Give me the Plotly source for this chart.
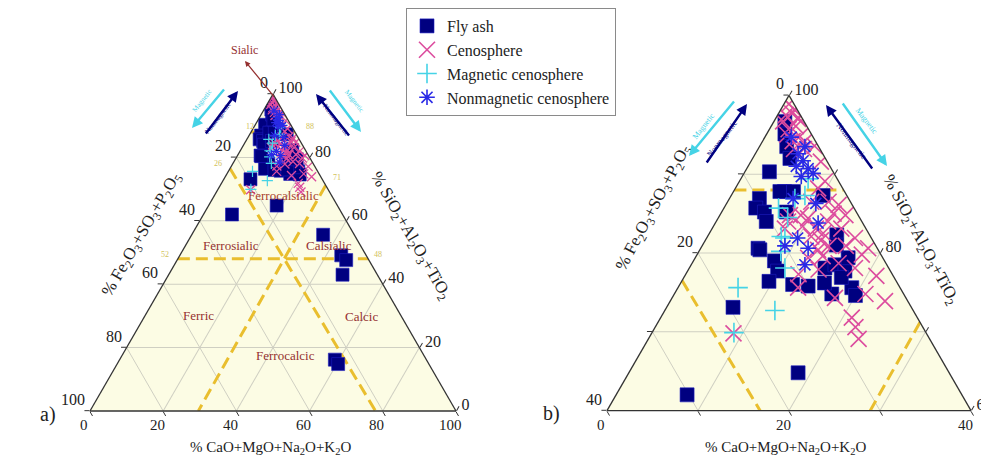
import plotly.graph_objects as go

W, H = 989, 456

# ---------------- data (percent) ----------------
# Si = SiO2+Al2O3+TiO2 (top), Fe = Fe2O3+SO3+P2O5 (bottom-left), Ca = CaO+MgO+Na2O+K2O (bottom-right)
fly_si = [90.3, 86.9, 85.7, 85.2, 84.0, 87.8, 87.8, 87.8, 87.3, 85.2, 82.3, 80.6, 79.0, 77.7, 76.4,
          76.0, 75.8, 78.1, 74.8, 78.5, 77.7, 75.6, 74.6, 76.9, 76.2, 79.4, 73.1, 62.0, 64.8, 80.4,
          81.0, 96.7, 95.1, 93.5, 92.0, 55.6, 49.1, 43.0, 16.2, 14.8, 47.6]
fly_fe = [7.0, 9.8, 10.8, 10.1, 10.5, 6.6, 7.1, 5.6, 2.6, 7.7, 3.6, 13.1, 12.1, 12.4, 14.0,
          11.6, 10.0, 7.0, 7.9, 5.7, 5.0, 5.3, 5.4, 5.8, 8.0, 3.8, 19.6, 30.2, 16.6, 13.0,
          4.3, 2.1, 2.9, 3.5, 3.9, 8.5, 6.8, 9.5, 25.0, 24.8, 6.2]
fly_ca = [2.7, 3.3, 3.5, 4.7, 5.5, 5.6, 5.1, 6.6, 10.1, 7.1, 14.1, 6.3, 8.9, 9.9, 9.6,
          12.4, 14.2, 14.9, 17.3, 15.8, 17.3, 19.1, 20.0, 17.3, 15.8, 16.8, 7.3, 7.8, 18.6, 6.6,
          14.7, 1.2, 2.0, 3.0, 4.1, 35.9, 44.1, 47.5, 58.8, 60.4, 46.2]

ceno_si = [98.2, 97.0, 93.6, 91.6, 89.1, 86.5, 86.1, 84.8, 84.0, 83.1, 81.9, 79.8, 80.6, 78.1, 74.8,
           73.9, 71.8, 69.1, 70.6, 86.5, 84.8, 84.0, 83.1, 77.3, 74.3, 69.8,
           98.9, 97.7, 97.5, 96.1, 95.7, 94.8, 94.2, 94.0, 95.0, 97.2, 96.7, 93.2, 93.2,
           84.4, 83.1, 82.1, 81.6, 80.4, 80.9, 83.4, 79.6, 84.8,
           88.2, 85.0, 82.5, 80.9, 78.7, 77.1, 77.9, 79.4, 75.6]
ceno_fe = [0.3, 0.5, 0.4, 0.7, 1.5, 2.4, 1.5, 1.4, 3.7, 2.7, 1.8, 2.1, 1.0, 3.7, 4.2,
           2.5, 7.2, 7.8, 7.4, 4.3, 6.3, 8.1, 8.9, 10.3, 7.8, 21.2,
           0.55, 0.8, 1.6, 1.2, 2.2, 1.4, 2.5, 1.4, 2.7, 0.4, 2.3, 1.75, 2.85,
           5.7, 5.5, 6.5, 5.7, 6.6, 5.2, 6.8, 6.5, 7.5,
           2.7, 2.6, 5.0, 3.3, 5.2, 1.85, 7.8, 8.2, 11.2]
ceno_ca = [1.5, 2.5, 6.0, 7.7, 9.4, 11.1, 12.4, 13.8, 12.3, 14.2, 16.3, 18.1, 18.4, 18.2, 21.0,
           23.6, 21.0, 23.1, 22.0, 9.2, 8.9, 7.9, 8.0, 12.4, 17.9, 9.0,
           0.55, 1.5, 0.9, 2.7, 2.1, 3.8, 3.3, 4.6, 2.3, 2.4, 1.0, 5.05, 3.95,
           9.9, 11.4, 11.4, 12.7, 13.0, 13.9, 9.8, 13.9, 7.7,
           9.1, 12.4, 12.5, 15.8, 16.1, 21.05, 14.3, 12.4, 13.2]

mag_si = [89.4, 87.3, 86.9, 85.7, 81.9, 80.2, 78.1, 75.6, 72.7, 69.9, 84.5, 82.1]
mag_fe = [3.2, 4.6, 5.9, 8.3, 9.5, 10.8, 11.4, 17.8, 15.2, 21.1, 7.9, 9.8]
mag_ca = [7.4, 8.1, 7.2, 6.0, 8.6, 9.0, 10.5, 6.6, 12.1, 9.0, 7.6, 8.1]

nonmag_si = [92.6, 91.7, 90.7, 91.0, 90.1, 89.7, 94.7, 93.5, 80.9, 81.9, 80.6, 86.9, 86.3, 78.5, 83.8]
nonmag_fe = [2.7, 2.6, 2.55, 3.7, 2.3, 3.8, 2.4, 1.5, 10.0, 8.1, 7.6, 6.1, 3.9, 9.0, 4.9]
nonmag_ca = [4.7, 5.7, 6.75, 5.3, 7.6, 6.5, 2.9, 5.0, 9.1, 10.0, 11.8, 7.0, 9.8, 12.5, 11.3]

# classification boundaries (dashed) : pairs of end points
bound_si = [[88, 88], [48, 48], [76.5, 0], [71.2, 0]]
bound_fe = [[12, 0], [52, 0], [23.5, 22], [0, 70.4]]
bound_ca = [[0, 12], [0, 52], [0, 78], [28.8, 29.6]]

# axis ticks / labels
ticks_full = [0, 20, 40, 60, 80, 100]
labels_full = ["0", "20", "40", "60", "80", "100"]
ticks_zoom = [60, 70, 80, 90, 100]
ticks_zoom_bc = [0, 10, 20, 30, 40]
labels_zoom = ["0", "20", "40"]          # Fe (left) and Ca (bottom) in the zoomed chart
labels_zoom_si = ["100", "", "80", "", "60"]

NAVY = "#000080"
PINK = "#DC4C9E"
CYAN = "#45D3E6"
BLUE = "#2A2AE6"
GOLD = "#E9BE2E"
DRED = "#953030"
SERIF = "Liberation Serif"

# pixel frames of the two ternary plots (domain boxes)
FRAME1 = (82, 448, 86, 403)
FRAME2 = (599, 963, 86, 404)

fig = go.Figure()


def add_set(sub, big, legend):
    for s, f, c in zip(bound_si, bound_fe, bound_ca):
        fig.add_trace(go.Scatterternary(a=s, b=f, c=c, mode="lines", subplot=sub,
                                        line=dict(color=GOLD, width=3, dash="12px,6px"),
                                        showlegend=False, hoverinfo="skip"))
    if big:
        keep = [i for i in range(len(fly_si)) if fly_si[i] >= 60]
        fsi = [fly_si[i] for i in keep]; ffe = [fly_fe[i] for i in keep]; fca = [fly_ca[i] for i in keep]
    else:
        fsi, ffe, fca = fly_si, fly_fe, fly_ca
    fig.add_trace(go.Scatterternary(a=fsi, b=ffe, c=fca, mode="markers", subplot=sub, name="Fly ash",
                                    marker=dict(symbol="square", size=14 if big else 13, color=NAVY,
                                                line=dict(width=0.6, color="#1d1dc0")),
                                    showlegend=legend))
    fig.add_trace(go.Scatterternary(a=ceno_si, b=ceno_fe, c=ceno_ca, mode="markers", subplot=sub,
                                    name="Cenosphere",
                                    marker=dict(symbol="x-thin-open", size=16 if big else 9, color=PINK,
                                                line=dict(width=1.6 if big else 1.3, color=PINK)),
                                    showlegend=legend))
    fig.add_trace(go.Scatterternary(a=mag_si, b=mag_fe, c=mag_ca, mode="markers", subplot=sub,
                                    name="Magnetic cenosphere",
                                    marker=dict(symbol="cross-thin-open", size=14 if big else 8, color=CYAN,
                                                line=dict(width=1.6 if big else 1.2, color=CYAN)),
                                    showlegend=legend))
    fig.add_trace(go.Scatterternary(a=nonmag_si, b=nonmag_fe, c=nonmag_ca, mode="markers", subplot=sub,
                                    name="Nonmagnetic cenosphere",
                                    marker=dict(symbol="asterisk-open", size=13 if big else 8, color=BLUE,
                                                line=dict(width=1.6 if big else 1.2, color=BLUE)),
                                    showlegend=legend))


add_set("ternary", False, False)
add_set("ternary2", True, True)


def axis(vals, texts, mn, labels=True):
    return dict(min=mn, tickmode="array", tickvals=vals, ticktext=texts, showticklabels=labels,
                linecolor="#333", linewidth=1.3, showline=True,
                showgrid=True, gridcolor="#CFCFC2", gridwidth=0.8,
                ticks="outside", ticklen=5, tickwidth=1.2, tickcolor="#333",
                tickfont=dict(family=SERIF, size=16, color="#222"), title=dict(text=""))


full_rev = [str(100 - v) for v in ticks_full]
fig.update_layout(
    width=W, height=H, margin=dict(l=0, r=0, t=0, b=0),
    paper_bgcolor="white", font=dict(family=SERIF),
    ternary=dict(sum=100, bgcolor="#FCFCE4",
                 domain=dict(x=[FRAME1[0] / W, FRAME1[1] / W], y=[1 - FRAME1[3] / H, 1 - FRAME1[2] / H]),
                 aaxis=axis(ticks_full, full_rev, 0, False),
                 baxis=axis(ticks_full, full_rev, 0, False),
                 caxis=axis(ticks_full, full_rev, 0)),
    ternary2=dict(sum=100, bgcolor="#FCFCE4",
                  domain=dict(x=[FRAME2[0] / W, FRAME2[1] / W], y=[1 - FRAME2[3] / H, 1 - FRAME2[2] / H]),
                  aaxis=axis(ticks_zoom, ticks_zoom, 60, False),
                  baxis=axis(ticks_zoom_bc, ticks_zoom_bc, 0, False),
                  caxis=axis(ticks_zoom_bc, labels_zoom_si, 0)),
    legend=dict(x=398 / W, y=1.0, xanchor="left", yanchor="top", bgcolor="white",
                bordercolor="#8a8a8a", borderwidth=1, tracegroupgap=0,
                font=dict(family=SERIF, size=16, color="#222")),
)


def ann(text, x, y, size=13, color="#222", angle=0, xa="center", ya="middle"):
    return dict(text=text, x=x / W, y=1 - y / H, xref="paper", yref="paper", showarrow=False,
                font=dict(size=size, color=color, family=SERIF), textangle=angle,
                xanchor=xa, yanchor=ya)


def arrow(hx, hy, tx, ty, color, width=2.4):
    return dict(text=" ", x=hx / W, y=1 - hy / H, xref="paper", yref="paper",
                ax=tx - hx, ay=ty - hy, axref="pixel", ayref="pixel", showarrow=True,
                font=dict(size=2),
                arrowhead=2, arrowsize=0.9, arrowwidth=width, arrowcolor=color, standoff=0, startstandoff=0)


def tri(frame):
    x0, x1, y0, y1 = frame
    w = x1 - x0
    h = w * 3 ** 0.5 / 2
    ybot = (y0 + y1) / 2 + h / 2
    return (x0, ybot), (x1, ybot), ((x0 + x1) / 2, ybot - h)


def edge_labels(frame, labels):
    """labels along the left edge (top -> bottom-left) and bottom edge (left -> right)"""
    bl, br, top = tri(frame)
    out = []
    n = len(labels) - 1
    for i, t in enumerate(labels):
        f = i / n
        lx = top[0] + f * (bl[0] - top[0]); ly = top[1] + f * (bl[1] - top[1])
        out.append(ann(t, lx - 3, ly - 1, 16, xa="right", ya="bottom"))
        bx = bl[0] + f * (br[0] - bl[0])
        out.append(ann(t, bx - 6, bl[1] + 4, 15, ya="top"))
    return out


FE_T = "% Fe<sub>2</sub>O<sub>3</sub>+SO<sub>3</sub>+P<sub>2</sub>O<sub>5</sub>"
SI_T = "% SiO<sub>2</sub>+Al<sub>2</sub>O<sub>3</sub>+TiO<sub>2</sub>"
CA_T = "% CaO+MgO+Na<sub>2</sub>O+K<sub>2</sub>O"

anns = edge_labels(FRAME1, labels_full) + edge_labels(FRAME2, labels_zoom) + [
    ann(FE_T, 134, 227, 17, angle=-60), ann(SI_T, 402, 228, 17, angle=60),
    ann(CA_T, 262, 440, 15),
    ann(FE_T, 646, 200, 17, angle=-62), ann(SI_T, 912, 232, 17, angle=62),
    ann(CA_T, 777, 440, 15),
    ann("a)", 40, 406, 20), ann("b)", 543, 405, 20),
    ann("Sialic", 236, 42, 12, DRED),
    ann("Ferrocalsialic", 275, 187, 13, "#A8402C"),
    ann("Ferrosialic", 223, 237, 13, DRED), ann("Calsialic", 321, 238, 13, DRED),
    ann("Ferric", 190, 307, 13, DRED), ann("Calcic", 353, 308, 13, DRED),
    ann("Ferrocalcic", 277, 347, 13, DRED),
    ann("12", 242, 118, 8, "#D2C25A"), ann("88", 302, 118, 8, "#D2C25A"),
    ann("26", 210, 155, 8, "#D2C25A"), ann("71", 329, 170, 8, "#D2C25A"),
    ann("52", 157, 247, 8, "#D2C25A"), ann("48", 370, 247, 8, "#D2C25A"),
    arrow(237, 53, 268, 91, DRED, 1.2),
    # left chart magnetic arrows
    arrow(184, 120, 218, 79, CYAN), arrow(230, 83, 196, 128, NAVY),
    arrow(308, 86, 343, 130, NAVY), arrow(353, 124, 320, 80, CYAN),
    ann("Magnetic", 194, 93, 7, CYAN, -52), ann("Nonmagnetic", 210, 110, 7, NAVY, -52),
    ann("Nonmagnetic", 328, 112, 7, NAVY, 52), ann("Magnetic", 346, 93, 7, CYAN, 52),
    # right chart magnetic arrows
    arrow(681, 148, 728, 91, CYAN), arrow(739, 96, 697, 157, NAVY),
    arrow(818, 97, 866, 163, NAVY), arrow(879, 158, 833, 93, CYAN),
    ann("Magnetic", 695, 118, 8, CYAN, -52), ann("Nonmagnetic", 714, 130, 8, NAVY, -52),
    ann("Nonmagnetic", 844, 133, 8, NAVY, 52), ann("Magnetic", 858, 113, 8, CYAN, 52),
]
fig.update_layout(annotations=anns)

fig.write_html("out.html")
